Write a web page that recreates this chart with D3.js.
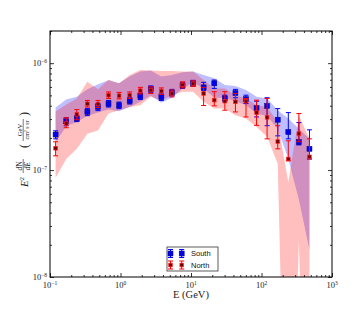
<!DOCTYPE html>
<html><head><meta charset="utf-8">
<script src="https://cdn.jsdelivr.net/npm/d3@7"></script>
<style>body{margin:0;background:#fff}svg{display:block}</style>
</head><body><svg id="c" width="360" height="315"></svg>
<script>
// ---- data ----
const energies = [0.120,0.170,0.240,0.339,0.479,0.676,0.955,1.35,1.91,2.69,3.80,5.37,7.59,10.7,15.1,21.4,30.2,42.7,60.3,85.1,120,170,240,339,479];
const southValues = [2.15e-7,2.86e-7,3.03e-7,3.50e-7,3.90e-7,4.17e-7,4.04e-7,4.45e-7,4.91e-7,5.72e-7,4.81e-7,5.29e-7,6.20e-7,6.48e-7,5.94e-7,6.48e-7,4.68e-7,5.25e-7,4.60e-7,3.80e-7,3.98e-7,2.96e-7,2.27e-7,1.83e-7,1.58e-7];
const southErrHigh = [2.33e-7,3.09e-7,3.23e-7,3.76e-7,4.20e-7,4.48e-7,4.33e-7,4.78e-7,5.27e-7,6.13e-7,5.16e-7,5.69e-7,6.62e-7,6.91e-7,6.62e-7,6.96e-7,5.02e-7,5.69e-7,5.02e-7,4.41e-7,4.75e-7,3.76e-7,3.45e-7,2.78e-7,2.38e-7];
const southErrLow = [1.96e-7,2.60e-7,2.84e-7,3.23e-7,3.60e-7,3.89e-7,3.76e-7,4.15e-7,4.57e-7,5.33e-7,4.48e-7,4.94e-7,5.81e-7,6.07e-7,5.56e-7,5.81e-7,4.35e-7,4.75e-7,4.20e-7,3.14e-7,2.60e-7,2.09e-7,1.96e-7,1.72e-7,1.27e-7];
const southBandHigh = [3.85e-7,4.57e-7,4.85e-7,5.69e-7,6.34e-7,6.91e-7,6.48e-7,7.49e-7,8.35e-7,8.53e-7,7.49e-7,7.76e-7,8.23e-7,8.35e-7,7.76e-7,7.22e-7,6.24e-7,6.11e-7,5.60e-7,4.85e-7,4.68e-7,3.63e-7,3.03e-7,2.44e-7,1.96e-7];
const southBandLow = [1.83e-7,2.57e-7,2.81e-7,3.20e-7,3.45e-7,3.68e-7,3.55e-7,3.90e-7,4.35e-7,4.96e-7,4.26e-7,4.75e-7,5.81e-7,6.58e-7,5.81e-7,4.75e-7,4.75e-7,4.41e-7,4.04e-7,3.38e-7,3.21e-7,2.44e-7,1.27e-7,5.3e-8,1.8e-8];
const northValues = [1.60e-7,2.72e-7,3.32e-7,4.17e-7,4.15e-7,5.02e-7,4.96e-7,5.02e-7,5.53e-7,5.60e-7,5.48e-7,5.21e-7,6.27e-7,6.43e-7,5.21e-7,4.51e-7,4.41e-7,4.35e-7,4.41e-7,3.45e-7,3.11e-7,1.85e-7,1.27e-7,2.19e-7,1.33e-7];
const northErrHigh = [1.84e-7,3.09e-7,3.68e-7,4.48e-7,4.48e-7,5.38e-7,5.33e-7,5.38e-7,5.94e-7,6.00e-7,5.87e-7,5.62e-7,6.69e-7,6.84e-7,5.94e-7,5.41e-7,5.41e-7,5.21e-7,4.68e-7,4.51e-7,4.68e-7,2.60e-7,1.88e-7,3.38e-7,1.96e-7];
const northErrLow = [1.36e-7,2.49e-7,2.96e-7,3.89e-7,3.85e-7,4.68e-7,4.63e-7,4.68e-7,5.16e-7,5.21e-7,5.10e-7,4.83e-7,5.87e-7,6.07e-7,4.02e-7,3.99e-7,3.63e-7,3.50e-7,3.14e-7,2.62e-7,1.96e-7,1.58e-7,1.22e-7,1.84e-7,1.27e-7];
const northBandHigh = [3.53e-7,4.10e-7,4.68e-7,6.72e-7,5.69e-7,6.99e-7,6.48e-7,7.76e-7,8.65e-7,8.53e-7,8.46e-7,8.46e-7,8.35e-7,8.35e-7,6.96e-7,5.81e-7,5.81e-7,5.02e-7,4.68e-7,4.04e-7,3.90e-7,2.82e-7,7.7e-8,3.23e-7,1.96e-7];
const northBandLow = [8.5e-8,1.27e-7,1.58e-7,2.19e-7,2.35e-7,3.38e-7,3.63e-7,3.90e-7,4.04e-7,4.85e-7,4.48e-7,5.02e-7,5.41e-7,5.41e-7,4.35e-7,3.76e-7,3.76e-7,3.25e-7,3.03e-7,2.53e-7,2.05e-7,1.14e-7,1e-11,2.2e-8,1e-11];
const xTickValues = [0.1,1,10,100,1000];
const xTickExps = ["\u22121","0","1","2","3"];
const yTickValues = [1e-8,1e-7,1e-6];
const yTickExps = ["\u22128","\u22127","\u22126"];
const seriesNames = ["South","North"];

// ---- layout ----
const L=50,R=332,T=31,B=277;
const svg=d3.select("#c");
const x=d3.scaleLog().domain([0.1,1000]).range([L,R]);
const y=d3.scaleLog().domain([1e-8,2e-6]).range([B,T]);

svg.append("defs").append("clipPath").attr("id","clip")
  .append("rect").attr("x",L).attr("y",T).attr("width",R-L).attr("height",B-T);
const plot=svg.append("g").attr("clip-path","url(#clip)");

function band(lo,hi){
  return d3.area().x((d,i)=>x(energies[i])).y0((d,i)=>y(lo[i])).y1((d,i)=>y(hi[i]))(energies);
}
plot.append("path").attr("d",band(southBandLow,southBandHigh)).attr("fill","#0000ff").attr("fill-opacity",0.25);
plot.append("path").attr("d",band(northBandLow,northBandHigh)).attr("fill","#ff0000").attr("fill-opacity",0.25);

function errorSeries(vals,lo,hi,color,kind){
  const g=plot.append("g");
  energies.forEach((e,i)=>{
    const cx=x(e);
    g.append("line").attr("x1",cx).attr("x2",cx).attr("y1",y(lo[i])).attr("y2",y(hi[i])).attr("stroke",color).attr("stroke-width",1);
    [lo[i],hi[i]].forEach(v=>g.append("line").attr("x1",cx-2.5).attr("x2",cx+2.5).attr("y1",y(v)).attr("y2",y(v)).attr("stroke",color).attr("stroke-width",1));
    marker(g,cx,y(vals[i]),kind);
  });
}
function marker(g,cx,cy,kind){
  if(kind==="s"){
    g.append("rect").attr("x",cx-2.5).attr("y",cy-2.5).attr("width",5).attr("height",5).attr("fill","#0000ee").attr("stroke","#000080").attr("stroke-width",0.5);
  } else {
    g.append("rect").attr("x",cx-1.8).attr("y",cy-1.8).attr("width",3.6).attr("height",3.6).attr("fill","#700000").attr("stroke","#ff2020").attr("stroke-width",0.7);
  }
}
errorSeries(southValues,southErrLow,southErrHigh,"#0000ff","s");
errorSeries(northValues,northErrLow,northErrHigh,"#ff0000","n");

// ---- axes ----
const xMinor=[];[0.1,1,10,100].forEach(d=>{for(let k=2;k<=9;k++)xMinor.push(d*k);});
const yMinor=[];[1e-8,1e-7,1e-6].forEach(d=>{for(let k=2;k<=9;k++){if(d*k<=2e-6)yMinor.push(d*k);}});
function styleAxis(g){g.select(".domain").remove();g.selectAll("line").attr("stroke","#000").attr("stroke-width",0.8);g.selectAll("text").remove();}
svg.append("g").attr("transform",`translate(0,${B})`).call(d3.axisBottom(x).tickValues(xTickValues).tickSize(-4)).call(styleAxis);
svg.append("g").attr("transform",`translate(0,${B})`).call(d3.axisBottom(x).tickValues(xMinor).tickSize(-2)).call(styleAxis);
svg.append("g").attr("transform",`translate(0,${T})`).call(d3.axisTop(x).tickValues(xTickValues).tickSize(-4)).call(styleAxis);
svg.append("g").attr("transform",`translate(0,${T})`).call(d3.axisTop(x).tickValues(xMinor).tickSize(-2)).call(styleAxis);
svg.append("g").attr("transform",`translate(${L},0)`).call(d3.axisLeft(y).tickValues(yTickValues).tickSize(-4)).call(styleAxis);
svg.append("g").attr("transform",`translate(${L},0)`).call(d3.axisLeft(y).tickValues(yMinor).tickSize(-2)).call(styleAxis);
svg.append("g").attr("transform",`translate(${R},0)`).call(d3.axisRight(y).tickValues(yTickValues).tickSize(-4)).call(styleAxis);
svg.append("g").attr("transform",`translate(${R},0)`).call(d3.axisRight(y).tickValues(yMinor).tickSize(-2)).call(styleAxis);
svg.append("rect").attr("x",L).attr("y",T).attr("width",R-L).attr("height",B-T).attr("fill","none").attr("stroke","#000").attr("stroke-width",1);

const font="'Liberation Serif','DejaVu Serif',serif";
xTickValues.forEach((v,i)=>{
  const t=svg.append("text").attr("x",x(v)).attr("y",288).attr("text-anchor","middle").attr("font-family",font).attr("font-size",8.5).attr("fill","#222");
  t.append("tspan").text("10");
  t.append("tspan").attr("dy",-3.5).attr("font-size",5.5).text(xTickExps[i]);
});
yTickValues.forEach((v,i)=>{
  const t=svg.append("text").attr("x",47).attr("y",y(v)+3).attr("text-anchor","end").attr("font-family",font).attr("font-size",8.5).attr("fill","#222");
  t.append("tspan").text("10");
  t.append("tspan").attr("dy",-3.5).attr("font-size",5.5).text(yTickExps[i]);
});
svg.append("text").attr("x",191).attr("y",298).attr("text-anchor","middle").attr("font-family",font).attr("font-size",10.5).attr("fill","#222").text("E (GeV)");

// y label pieces (rotated)
function rt(sx,sy,size,italic){
  const t=svg.append("text").attr("transform",`translate(${sx},${sy}) rotate(-90)`).attr("text-anchor","middle").attr("font-family",font).attr("font-size",size).attr("fill","#222");
  if(italic)t.attr("font-style","italic");
  return t;
}
let t=rt(28,182,11,true); t.append("tspan").text("E"); t.append("tspan").attr("dy",-4.5).attr("font-size",7).attr("font-style","normal").text("2");
rt(21.5,166,7.5,false).call(s=>{s.append("tspan").attr("font-style","italic").text("d");s.append("tspan").text("N");});
svg.append("line").attr("x1",23.2).attr("x2",23.2).attr("y1",159).attr("y2",173).attr("stroke","#222").attr("stroke-width",0.6);
rt(29.5,166,7.5,true).text("dE");
rt(28,146,12,false).text("(");
rt(21.5,130,6.5,false).text("GeV");
svg.append("line").attr("x1",23.2).attr("x2",23.2).attr("y1",119).attr("y2",141).attr("stroke","#222").attr("stroke-width",0.6);
rt(29,130,6,false).call(s=>{s.append("tspan").text("cm");s.append("tspan").attr("dy",-2.5).attr("font-size",4).text("2");s.append("tspan").attr("dy",2.5).text(" s sr");});
rt(28,114,12,false).text(")");

// ---- legend ----
const lg=svg.append("g");
lg.append("rect").attr("x",167).attr("y",247).attr("width",51).attr("height",24).attr("fill","#fff").attr("stroke","#333").attr("stroke-width",0.8);
const legendRows=[{name:seriesNames[0],color:"#0000ff",kind:"s",yy:253.5},{name:seriesNames[1],color:"#ff0000",kind:"n",yy:265}];
legendRows.forEach(r=>{
  [170.5,181.7].forEach(cx=>{
    lg.append("line").attr("x1",cx).attr("x2",cx).attr("y1",r.yy-4).attr("y2",r.yy+4).attr("stroke",r.color);
    [r.yy-4,r.yy+4].forEach(v=>lg.append("line").attr("x1",cx-2.5).attr("x2",cx+2.5).attr("y1",v).attr("y2",v).attr("stroke",r.color));
    marker(lg,cx,r.yy,r.kind);
  });
  lg.append("text").attr("x",191).attr("y",r.yy+2.5).attr("font-family","'Liberation Sans',Arial,sans-serif").attr("font-size",7.5).attr("fill","#111").text(r.name);
});
</script></body></html>
